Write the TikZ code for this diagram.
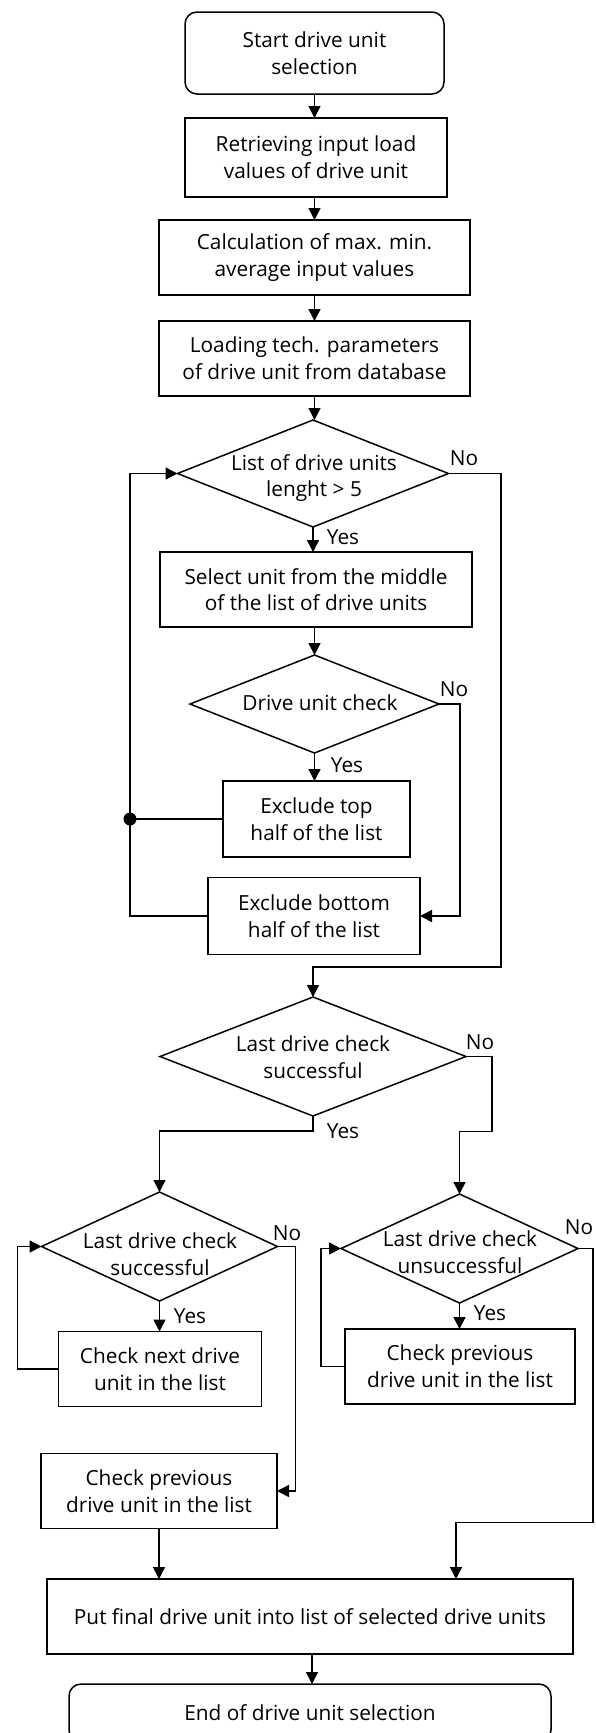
\documentclass[tikz,border=0pt]{standalone}
\usepackage{fontspec}
\setmainfont{Open Sans}
\usetikzlibrary{shapes.geometric,arrows.meta}
\newcommand\flowfont{\fontsize{20.8}{26.7}\selectfont}
\tikzset{
  base/.style={draw=black, line width=1.5pt, inner sep=0pt, outer sep=0pt, align=center, font=\flowfont},
  box/.style={base, rectangle},
  rbox/.style={base, rectangle, rounded corners=12pt},
  dia/.style={base, diamond},
  lbl/.style={font=\flowfont, inner sep=0pt, align=center},
  arr/.style={-{Triangle[length=12pt,width=12pt]}, line width=1.5pt},
  ln/.style={line width=1.5pt},
}
\begin{document}
\begin{tikzpicture}[x=1pt,y=-1pt]
\path[use as bounding box, clip] (0,0) rectangle (596,1733);

% main column
\node[rbox, minimum width=259pt, minimum height=82pt] (start) at (314.5,53) {Start drive unit\\selection};
\node[box, minimum width=262pt, minimum height=79pt] (retr) at (316,157.5) {Retrieving input load\\values of drive unit};
\node[box, minimum width=311pt, minimum height=75pt] (calc) at (314.5,257.5) {Calculation of max. min.\\average input values};
\node[box, minimum width=311pt, minimum height=75pt] (load) at (314.5,358.5) {Loading tech. parameters\\of drive unit from database};
\node[dia, minimum width=271pt, minimum height=107pt] (d1) at (313,473.5) {};
\node[lbl] (d1t) at (314,478) {List of drive units\\lenght > 5};
\node[box, minimum width=312pt, minimum height=75pt] (sel) at (316,589.5) {Select unit from the middle\\of the list of drive units};
\node[dia, minimum width=249pt, minimum height=98pt] (d2) at (314.5,704) {};
\node[lbl] (d2t) at (320,703) {Drive unit check};
\node[box, minimum width=187pt, minimum height=76pt] (extop) at (316.5,819) {Exclude top\\half of the list};
\node[box, minimum width=212pt, minimum height=77pt] (exbot) at (314,916) {Exclude bottom\\half of the list};
\node[dia, minimum width=306pt, minimum height=119pt] (d3) at (313,1056.5) {};
\node[lbl] (d3t) at (313,1057) {Last drive check\\successful};

% left branch
\node[dia, minimum width=236pt, minimum height=109pt] (d4) at (159.5,1246.5) {};
\node[lbl] (d4t) at (160,1254) {Last drive check\\successful};
\node[box, minimum width=203pt, minimum height=75pt] (chknext) at (160,1369) {Check next drive\\unit in the list};
\node[box, minimum width=236pt, minimum height=75pt] (chkprevL) at (159,1491) {Check previous\\drive unit in the list};

% right branch
\node[dia, minimum width=237pt, minimum height=109pt] (d5) at (459.5,1248.5) {};
\node[lbl] (d5t) at (460,1252) {Last drive check\\unsuccessful};
\node[box, minimum width=230pt, minimum height=75pt] (chkprevR) at (460,1366.5) {Check previous\\drive unit in the list};

% bottom
\node[box, minimum width=526pt, minimum height=75pt] (put) at (310,1616.5) {Put final drive unit into list of selected drive units};
\node[rbox, minimum width=482pt, minimum height=58pt] (end) at (310,1713) {End of drive unit selection};

% labels
\node[lbl] (no1) at (464,458) {No};
\node[lbl] (yes1) at (343,537) {Yes};
\node[lbl] (no2) at (454,689) {No};
\node[lbl] (yes2) at (347,765) {Yes};
\node[lbl] (no3) at (480,1042) {No};
\node[lbl] (yes3) at (343,1131) {Yes};
\node[lbl] (no4) at (287,1233) {No};
\node[lbl] (yes4) at (190,1316) {Yes};
\node[lbl] (no5) at (579,1227) {No};
\node[lbl] (yes5) at (490,1313) {Yes};

% coordinates
\coordinate (nox) at (501,967);
\coordinate (n2) at (460,916);
\coordinate (dot) at (130,819);

% connectors main column
\draw[arr] (start.south) -- (start.south |- retr.north);
\draw[arr] (retr.south -| start.south) -- (start.south |- calc.north);
\draw[arr] (calc.south) -- (calc.south |- load.north);
\draw[arr] (load.south) -- (load.south |- d1.north);
\draw[arr] (d1.south) -- (d1.south |- sel.north);
\draw[arr] (sel.south -| d2.north) -- (d2.north);
\draw[arr] (d2.south) -- (d2.south |- extop.north);
\draw[arr] (d2.east) -| (n2) |- (exbot.east);
\draw[ln] (extop.west) -- (dot);
\fill (dot) circle (6.5pt);
\draw[arr] (exbot.west) -| (dot) |- (d1.west);
\draw[arr] (d1.east) -| (nox) -| (d3.north);

% to lower diamonds
\draw[arr] (d3.south) -- ++(0,15) -| (d4.north);
\draw[arr] (d3.east) -- ++(26,0) -- ++(0,75) -| (d5.north);

% left branch
\draw[arr] (d4.south) -- (d4.south |- chknext.north);
\draw[arr] (chknext.west) -- ++(-41,0) |- (d4.west);
\draw[arr] (d4.east) -- ++(18,0) |- (chkprevL.east);
\draw[arr] (chkprevL.south) -- (chkprevL.south |- put.north);

% right branch
\draw[arr] (d5.south) -- (d5.south |- chkprevR.north);
\draw[arr] (chkprevR.west) -- ++(-24,0) |- (d5.west);
\coordinate (pin2) at (456,1579);
\draw[arr] (d5.east) -| ++(15,274) -| (pin2);

% end
\draw[arr] (put.south -| end.north) ++(2,0) coordinate (pe) -- (pe |- end.north);
\end{tikzpicture}
\end{document}
